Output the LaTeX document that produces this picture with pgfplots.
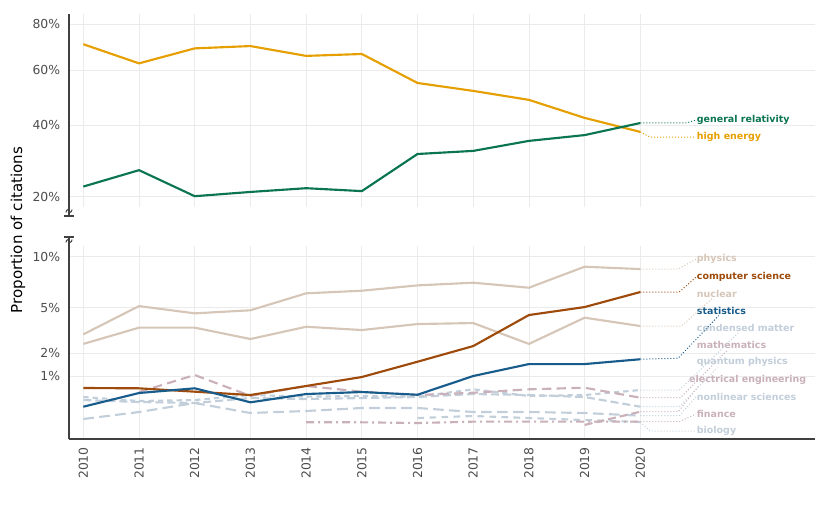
\documentclass[border=0pt]{standalone}
\usepackage{fontspec}
\setmainfont{DejaVu Sans}
\usepackage{pgfplots}
\pgfplotsset{compat=1.18}
\definecolor{heC}{HTML}{E69F00}
\definecolor{grC}{HTML}{0B7550}
\definecolor{csC}{HTML}{9E4A0B}
\definecolor{stC}{HTML}{185C8C}
\definecolor{tanC}{HTML}{D6C6B8}
\definecolor{bgC}{HTML}{C2CEDA}
\definecolor{mvC}{HTML}{CAB1B9}
\definecolor{gridC}{HTML}{EBEBEB}
\definecolor{tickC}{HTML}{4D4D4D}
\pgfplotsset{
  sqrty/.style={
    y coord trafo/.code={\pgfmathparse{ifthenelse(##1<0,-sqrt(abs(##1)),sqrt(abs(##1)))}},
    y coord inv trafo/.code={\pgfmathparse{##1*abs(##1)}},
  },
  base/.style={
    scale only axis, width=559.5pt, height=144.75pt,
    xmin=2009.743, xmax=2023.136,
    xtick={2010,2011,2012,2013,2014,2015,2016,2017,2018,2019,2020},
    xmajorgrids, ymajorgrids,
    grid style={color=gridC, line width=0.6pt},
    major tick length=0pt,
    axis lines*=left,
    axis line style={-, color=black!75, line width=1.1pt},
    tick label style={font=\fontsize{9.3}{11}\selectfont, text=tickC},
    /pgf/number format/assume math mode=true,
    yticklabel style={anchor=east, inner sep=0pt},
    yticklabel shift=6.5pt,
    clip=false,
  },
}
\tikzset{
  lab/.style={anchor=west, inner sep=0.5pt, font=\bfseries\fontsize{7.1}{8}\selectfont},
  ld/.style={line width=0.75pt, dash pattern=on 0.75pt off 1.5pt},
  ln/.style={line width=1.6pt},
}
\begin{document}
\begin{tikzpicture}
\useasboundingbox (0,0) rectangle (622.5pt,385.5pt);
% ---------------- top panel ----------------
\begin{axis}[base, sqrty,
  at={(51.75pt,230.25pt)}, anchor=south west,
  ymin=17.67, ymax=84.7,
  ytick={20,40,60,80}, yticklabels={20\%,40\%,60\%,80\%},
  xticklabels={},
  x axis line style={draw=none},
]
\addplot[color=heC, ln] coordinates {
(2010,70.9) (2011,62.8) (2012,69.1) (2013,70.1) (2014,65.9) (2015,66.7)
(2016,55.0) (2017,52.0) (2018,48.7) (2019,42.4) (2020,37.8)};
\addplot[color=grC, ln] coordinates {
(2010,22.4) (2011,26.6) (2012,20.1) (2013,21.1) (2014,22.0) (2015,21.3)
(2016,31.1) (2017,32.0) (2018,35.0) (2019,36.8) (2020,40.7)};
\node[lab, text=grC] (lgr) at (axis cs:2021,41.7) {general relativity};
\node[lab, text=heC] (lhe) at (axis cs:2021,36.2) {high energy};
\draw[ld, grC] (axis cs:2020,40.7) -- (axis cs:2020.83,40.7) -- (lgr.west);
\draw[ld, heC] (axis cs:2020,37.8) -- (axis cs:2020.17,36.2) -- (lhe.west);
\end{axis}
% ---------------- bottom panel ----------------
\begin{axis}[base, sqrty,
  at={(51.75pt,56.25pt)}, anchor=south west,
  ymin=-0.0199, ymax=11.26,
  ytick={1,2,5,10}, yticklabels={1\%,2\%,5\%,10\%},
  xticklabels={2010,2011,2012,2013,2014,2015,2016,2017,2018,2019,2020},
  xticklabel style={rotate=90, anchor=east, inner sep=0pt},
  xticklabel shift=6pt,
]
% light series
\addplot[color=bgC, ln, dash pattern=on 8pt off 4pt] coordinates {
(2010,0.049) (2011,0.121) (2012,0.261) (2013,0.109) (2014,0.134) (2015,0.177)
(2016,0.177) (2017,0.121) (2018,0.121) (2019,0.109) (2020,0.079)};
\addplot[color=bgC, ln, dash pattern=on 5pt off 4pt] coordinates {
(2016,0.057) (2017,0.076) (2018,0.057) (2019,0.041) (2020,0.028)};
\addplot[color=bgC, ln, dash pattern=on 6pt off 3pt] coordinates {
(2010,0.319) (2011,0.280) (2012,0.261) (2013,0.361) (2014,0.340) (2015,0.361)
(2016,0.384) (2017,0.454) (2018,0.430) (2019,0.384) (2020,0.197)};
\addplot[color=bgC, ln, dash pattern=on 4pt off 3pt] coordinates {
(2010,0.384) (2011,0.299) (2012,0.319) (2013,0.430) (2014,0.391) (2015,0.407)
(2016,0.391) (2017,0.576) (2018,0.407) (2019,0.430) (2020,0.557)};
\addplot[color=mvC, ln, dash pattern=on 6pt off 3pt on 1.5pt off 3pt] coordinates {
(2014,0.026) (2015,0.026) (2016,0.022) (2017,0.030) (2018,0.030) (2019,0.030) (2020,0.030)};
\addplot[color=mvC, ln, dash pattern=on 6pt off 3pt] coordinates {
(2019,0.013) (2020,0.125)};
\addplot[color=mvC, ln, dash pattern=on 7pt off 4pt] coordinates {
(2011,0.504) (2012,1.036) (2013,0.410) (2014,0.671) (2015,0.513) (2016,0.430)
(2017,0.486) (2018,0.576) (2019,0.621) (2020,0.368)};
% tan
\addplot[color=tanC, ln] coordinates {
(2010,2.50) (2011,3.52) (2012,3.52) (2013,2.79) (2014,3.58) (2015,3.36)
(2016,3.77) (2017,3.84) (2018,2.50) (2019,4.23) (2020,3.63)};
\addplot[color=tanC, ln] coordinates {
(2010,3.08) (2011,5.14) (2012,4.56) (2013,4.80) (2014,6.24) (2015,6.48)
(2016,6.98) (2017,7.24) (2018,6.76) (2019,8.88) (2020,8.63)};
% strong
\addplot[color=csC, ln] coordinates {
(2010,0.613) (2011,0.604) (2012,0.513) (2013,0.430) (2014,0.671) (2015,0.964)
(2016,1.585) (2017,2.38) (2018,4.43) (2019,5.06) (2020,6.36)};
\addplot[color=stC, ln] coordinates {
(2010,0.197) (2011,0.479) (2012,0.604) (2013,0.274) (2014,0.454) (2015,0.504)
(2016,0.437) (2017,1.0) (2018,1.48) (2019,1.48) (2020,1.70)};
% labels
\node[lab, text=tanC] (lph) at (axis cs:2021,9.73) {physics};
\node[lab, text=csC]  (lcs) at (axis cs:2021,7.80) {computer science};
\node[lab, text=tanC] (lnu) at (axis cs:2021,6.18) {nuclear};
\node[lab, text=stC]  (lst) at (axis cs:2021,4.74) {statistics};
\node[lab, text=bgC]  (lcm) at (axis cs:2021,3.50) {condensed matter};
\node[lab, text=mvC]  (lma) at (axis cs:2021,2.44) {mathematics};
\node[lab, text=bgC]  (lqp) at (axis cs:2021,1.57) {quantum physics};
\node[lab, text=mvC]  (lee) at (axis cs:2020.86,0.861) {electrical engineering};
\node[lab, text=bgC]  (lnl) at (axis cs:2021,0.384) {nonlinear sciences};
\node[lab, text=mvC]  (lfi) at (axis cs:2021,0.0975) {finance};
\node[lab, text=bgC]  (lbi) at (axis cs:2021,0.0) {biology};
% leaders
\draw[ld, tanC] (axis cs:2020,8.63) -- (axis cs:2020.68,8.63) -- (lph.west);
\draw[ld, csC] (axis cs:2020,6.36) -- (axis cs:2020.7,6.36) -- (lcs.west);
\draw[ld, tanC] (axis cs:2020,3.63) -- (axis cs:2020.74,3.63) -- ([xshift=12pt]lnu.south west);
\draw[ld, stC] (axis cs:2020,1.70) -- (axis cs:2020.68,1.75) -- ([xshift=17pt]lst.south west);
\draw[ld, bgC] (axis cs:2020,0.557) -- (axis cs:2020.7,0.557) -- ([xshift=32pt]lcm.south west);
\draw[ld, mvC] (axis cs:2020,0.368) -- (axis cs:2020.72,0.368) -- ([xshift=24pt]lma.south west);
\draw[ld, bgC] (axis cs:2020,0.197) -- (axis cs:2020.7,0.197) -- ([xshift=16pt]lqp.south west);
\draw[ld, mvC] (axis cs:2020,0.125) -- (axis cs:2020.68,0.125) -- ([xshift=8pt]lee.south west);
\draw[ld, bgC] (axis cs:2020,0.079) -- (axis cs:2020.7,0.079) -- (lnl.west);
\draw[ld, mvC] (axis cs:2020,0.030) -- (axis cs:2020.7,0.030) -- (lfi.west);
\draw[ld, bgC] (axis cs:2020,0.028) -- (axis cs:2020.18,0.0) -- (lbi.west);
\end{axis}
% axis break marks
\begin{scope}[black!75, line width=0.9pt]
\draw (51.75pt,230.25pt) -- (51.75pt,223.5pt);
\draw (48.1pt,223.5pt) -- (55.4pt,223.5pt);
\draw[line width=0.7pt] (49.4pt,226.2pt) to[out=70,in=180] (50.9pt,228.3pt) to[out=0,in=180] (52.6pt,226.2pt) to[out=0,in=250] (54.1pt,228.3pt);
\draw (51.75pt,207.75pt) -- (51.75pt,201pt);
\draw (48.1pt,207.75pt) -- (55.4pt,207.75pt);
\draw[line width=0.7pt] (49.4pt,203.7pt) to[out=70,in=180] (50.9pt,205.8pt) to[out=0,in=180] (52.6pt,203.7pt) to[out=0,in=250] (54.1pt,205.8pt);
\end{scope}
% y label
\node[rotate=90, font=\fontsize{11.3}{13}\selectfont] at (13.5pt,213pt) {Proportion of citations};
\end{tikzpicture}
\end{document}
